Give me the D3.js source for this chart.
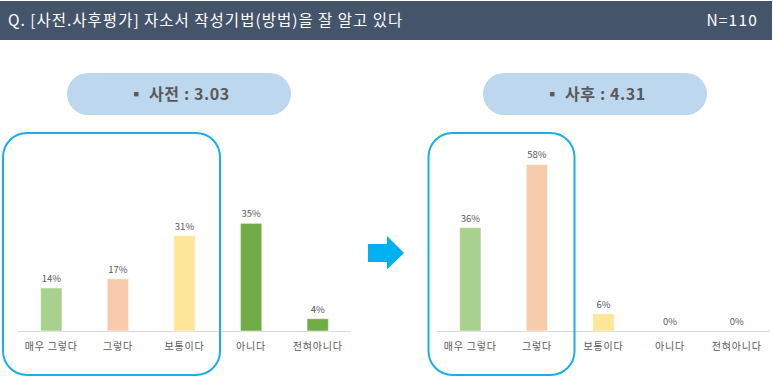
<!DOCTYPE html>
<html><head><meta charset="utf-8">
<script src="https://cdn.jsdelivr.net/npm/d3@7"></script>
<style>
html,body{margin:0;padding:0;background:#fff;}
svg{display:block;font-family:"Noto Sans CJK KR","Noto Sans",sans-serif;}
</style></head>
<body><svg id="c" width="773" height="378"></svg>
<script>
const title = "Q. [사전.사후평가] 자소서 작성기법(방법)을 잘 알고 있다";
const nLabel = "N=110";
const categories = ["매우 그렇다", "그렇다", "보통이다", "아니다", "전혀아니다"];
const preValues = [14, 17, 31, 35, 4];
const postValues = [36, 58, 6, 0, 0];
const preTitle = "▪ 사전 : 3.03";
const postTitle = "▪ 사후 : 4.31";
const preMax = 40, postMax = 70;
const colors = ["#A9D18E", "#F8CBAD", "#FFE699", "#70AD47", "#70AD47"];

const svg = d3.select("#c");

// header
svg.append("rect").attr("x",0).attr("y",1).attr("width",772).attr("height",39).attr("fill","#44546A");
svg.append("text").attr("x",8).attr("y",26).attr("fill","#fff").attr("font-size",15.5).attr("letter-spacing",1).text(title);
svg.append("text").attr("x",758).attr("y",26).attr("fill","#fff").attr("font-size",15.5).attr("letter-spacing",1.2).attr("text-anchor","end").text(nLabel);

// pills
function pill(x0,x1,label){
  const h=42, y=73;
  svg.append("rect").attr("x",x0).attr("y",y).attr("width",x1-x0).attr("height",h).attr("rx",h/2).attr("fill","#BDD7EE");
  svg.append("text").attr("x",(x0+x1)/2).attr("y",y+h/2+6).attr("text-anchor","middle")
    .attr("font-size",16).attr("letter-spacing",0.6).attr("font-weight","bold").attr("fill","#595959").text(label);
}
pill(67,291,preTitle);
pill(483,707,postTitle);

// chart
function chart(x0,x1,values,max,plotH){
  const base=331;
  const x=d3.scaleBand().domain(categories).range([x0,x1]).paddingInner(0.68).paddingOuter(0.34);
  const y=d3.scaleLinear().domain([0,max]).range([base, base-plotH]);
  const g=svg.append("g");
  g.append("line").attr("x1",x0).attr("x2",x1).attr("y1",base+0.5).attr("y2",base+0.5).attr("stroke","#D9D9D9").attr("stroke-width",1);
  g.selectAll("rect.bar").data(values).join("rect").attr("class","bar")
    .attr("x",(d,i)=>x(categories[i])).attr("width",x.bandwidth())
    .attr("y",d=>y(d)).attr("height",d=>base-y(d))
    .attr("fill",(d,i)=>colors[i]).attr("stroke","#fff").attr("stroke-opacity",0.5).attr("stroke-width",d=>d>0?1:0);
  g.selectAll("text.v").data(values).join("text").attr("class","v")
    .attr("x",(d,i)=>x(categories[i])+x.bandwidth()/2).attr("y",d=>y(d)-6)
    .attr("text-anchor","middle").attr("font-size",9.5).attr("fill","#595959").text(d=>d+"%");
  g.selectAll("text.c").data(categories).join("text").attr("class","c")
    .attr("x",d=>x(d)+x.bandwidth()/2).attr("y",350)
    .attr("text-anchor","middle").attr("font-size",10).attr("letter-spacing",0.8).attr("fill","#595959").text(d=>d);
}
chart(18,351,preValues,preMax,123);
chart(437,770,postValues,postMax,201);

// highlight boxes
svg.append("rect").attr("x",3).attr("y",133).attr("width",217).attr("height",242).attr("rx",24)
  .attr("fill","none").attr("stroke","#1AAFE8").attr("stroke-width",2);
svg.append("rect").attr("x",428.5).attr("y",133).attr("width",146).attr("height",242).attr("rx",24)
  .attr("fill","none").attr("stroke","#1AAFE8").attr("stroke-width",2);

// arrow
svg.append("path").attr("d","M368,244 L387,244 L387,236 L404,253 L387,269.5 L387,262 L368,262 Z").attr("fill","#00B0F0");
</script></body></html>
